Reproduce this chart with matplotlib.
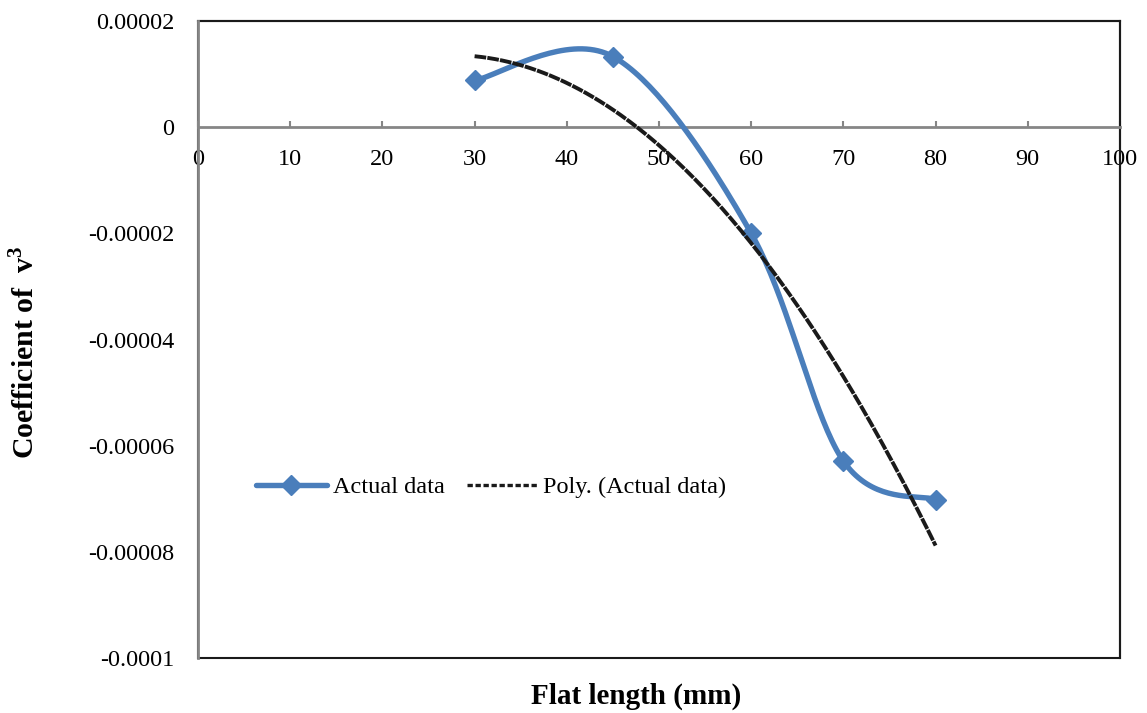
import numpy as np
import matplotlib
matplotlib.use("Agg")
import matplotlib.pyplot as plt
from matplotlib.patches import Rectangle

plt.rcParams["font.family"] = ["Liberation Serif", "DejaVu Serif"]
plt.rcParams["mathtext.fontset"] = "custom"
plt.rcParams["mathtext.rm"] = "Liberation Serif"
plt.rcParams["mathtext.bf"] = "Liberation Serif:bold"

# data
flat_length = [30, 45, 60, 70, 80]
coef_v3 = [0.0000088, 0.0000133, -0.0000200, -0.0000629, -0.0000702]

x_ticks = [0, 10, 20, 30, 40, 50, 60, 70, 80, 90, 100]
y_ticks = [0.00002, 0, -0.00002, -0.00004, -0.00006, -0.00008, -0.0001]
y_tick_labels = ["0.00002", "0", "-0.00002", "-0.00004", "-0.00006", "-0.00008", "-0.0001"]

blue = "#4A7EBB"
gray = "#868686"


# Excel style smoothed line (Catmull-Rom through bezier segments)
def smooth(xs, ys, n=40):
    p = np.column_stack([xs, ys]).astype(float)
    out = [p[0]]
    for i in range(len(p) - 1):
        p0 = p[i - 1] if i > 0 else p[i]
        p1 = p[i]
        p2 = p[i + 1]
        p3 = p[i + 2] if i + 2 < len(p) else p[i + 1]
        c1 = p1 + (p2 - p0) / 6
        c2 = p2 - (p3 - p1) / 6
        t = np.linspace(0, 1, n)[1:, None]
        seg = (1 - t)**3 * p1 + 3 * (1 - t)**2 * t * c1 + 3 * (1 - t) * t**2 * c2 + t**3 * p2
        out.extend(seg)
    out = np.array(out)
    return out[:, 0], out[:, 1]


sx, sy = smooth(flat_length, coef_v3)

# polynomial trendline, order 2
coefs = np.polyfit(flat_length, coef_v3, 2)
tx = np.linspace(min(flat_length), max(flat_length), 200)
ty = np.polyval(coefs, tx)

fig = plt.figure(figsize=(11.47, 7.13), dpi=100)
ax = fig.add_axes([198/1147, 1 - 658/713, 922/1147, 637/713])

ax.plot(sx, sy, color=blue, lw=3.9, solid_capstyle="round", zorder=3)
ax.plot(flat_length, coef_v3, ls="none", marker="D", ms=10.5, color=blue, zorder=4)
ax.plot(tx, ty, color="#1a1a1a", lw=2.8, dashes=(3.0, 0.3), zorder=5)

# legend proxies
h1, = ax.plot([], [], color=blue, lw=3.9, marker="D", ms=10.5, solid_capstyle="round")
h2, = ax.plot([], [], color="#1a1a1a", lw=2.4, dashes=(1.6, 0.8))
ax.legend([h1, h2], ["Actual data", "Poly. (Actual data)"], ncol=2, frameon=False,
          loc="center", bbox_to_anchor=(0.318, 0.268), fontsize=17.5,
          handlelength=2.9, columnspacing=0.9, handletextpad=0.25)

ax.set_xlim(0, 100)
ax.set_ylim(-0.0001, 0.00002)
ax.set_xticks(x_ticks)
ax.set_yticks(y_ticks)
ax.set_yticklabels(y_tick_labels)

ax.spines["bottom"].set_position(("data", 0))
ax.spines["bottom"].set_color(gray)
ax.spines["bottom"].set_linewidth(2)
ax.spines["left"].set_color(gray)
ax.spines["left"].set_linewidth(2)
ax.spines["left"].set_zorder(6)
for s in ["top", "right"]:
    ax.spines[s].set_color("#1a1a1a")
    ax.spines[s].set_linewidth(1.5)

# bottom edge of plot area border
ax.add_patch(Rectangle((0, 0), 1, 1, transform=ax.transAxes, fill=False,
                       edgecolor="#1a1a1a", lw=1.5, clip_on=False, zorder=1))

ax.tick_params(axis="x", direction="in", length=4, width=1.5, color=gray,
               labelsize=17.5, pad=16)
ax.tick_params(axis="y", length=0, labelsize=17.5, pad=17)

ax.set_xlabel("Flat length (mm)", fontsize=21, fontweight="bold")
ax.xaxis.set_label_coords(0.475, -0.038)
ax.set_ylabel(r"Coefficient of  $\mathbf{v}^{\mathbf{3}}$", fontsize=21.5, fontweight="bold")
ax.yaxis.set_label_coords(-0.171, 0.48)

fig.savefig("out.png", dpi=100)
